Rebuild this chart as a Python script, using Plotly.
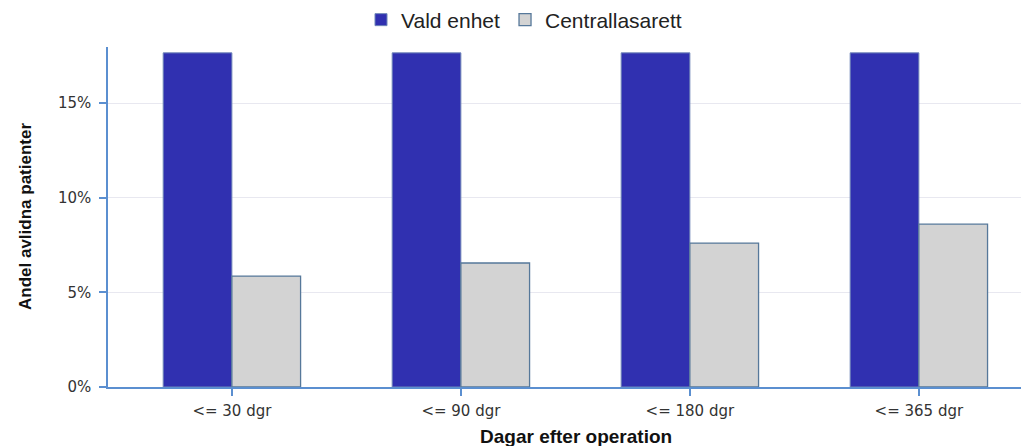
import plotly.graph_objects as go

categories = ["<= 30 dgr", "<= 90 dgr", "<= 180 dgr", "<= 365 dgr"]
vald_enhet = [17.65, 17.65, 17.65, 17.65]
centrallasarett = [5.86, 6.55, 7.6, 8.6]
y_ticks = [0, 5, 10, 15]
y_ticklabels = ["0%", "5%", "10%", "15%"]

# The page body adds an 8px offset, so the figure is sized to end at the window edge.
W, H = 1021, 438
PL, PT, PB = 100, 39, 379  # plot left, top, bottom in figure pixels

fig = go.Figure()
fig.add_trace(go.Bar(
    name="Vald enhet", x=categories, y=vald_enhet,
    marker=dict(color="#3030B0", line=dict(color="#6f86b8", width=1)),
))
fig.add_trace(go.Bar(
    name="Centrallasarett", x=categories, y=centrallasarett,
    marker=dict(color="#D3D3D3", line=dict(color="#56789a", width=1.3)),
))

fig.update_layout(
    width=W, height=H,
    margin=dict(l=PL, r=0, t=PT, b=H - PB, pad=0),
    paper_bgcolor="white", plot_bgcolor="white",
    barmode="group", bargap=0.4, bargroupgap=0,
    font=dict(family="Liberation Sans, Arial, sans-serif", color="#333"),
    legend=dict(orientation="h", xref="container", x=516 / W, xanchor="center",
                yref="container", y=1 - 12 / H, yanchor="middle",
                font=dict(size=21, color="#222"), traceorder="normal",
                itemwidth=30, tracegroupgap=0),
    showlegend=True,
    annotations=[
        dict(text="<b>Dagar efter operation</b>", xref="paper", yref="paper",
             x=(568 - PL) / (W - PL), y=-(428 - PB) / (PB - PT),
             xanchor="center", yanchor="middle", showarrow=False,
             font=dict(size=19, color="#111", family="Liberation Sans, Arial, sans-serif")),
        dict(text="<b>Andel avlidna patienter</b>", xref="paper", yref="paper",
             x=-(PL - 17) / (W - PL), y=(PB - 209) / (PB - PT),
             xanchor="center", yanchor="middle", showarrow=False, textangle=-90,
             font=dict(size=17, color="#111", family="Liberation Sans, Arial, sans-serif")),
    ],
)
fig.update_xaxes(
    automargin=False,
    range=[-0.541, 3.481], showline=True, linecolor="#5b8fd0", linewidth=1.5,
    ticks="outside", ticklen=7, tickcolor="#5b8fd0", tickwidth=1.5,
    tickfont=dict(size=15, color="#333", family="DejaVu Sans, Verdana, sans-serif"),
    ticklabelstandoff=2,
    showgrid=False,
)
fig.update_yaxes(
    automargin=False,
    range=[0, 17.96], tickvals=y_ticks, ticktext=y_ticklabels,
    showline=True, linecolor="#5b8fd0", linewidth=1.5,
    ticks="outside", ticklen=7, tickcolor="#5b8fd0", tickwidth=1.5,
    tickfont=dict(size=15, color="#333", family="DejaVu Sans, Verdana, sans-serif"),
    ticklabelstandoff=5,
    gridcolor="#e8e8f0", zeroline=False,
)
fig.write_html("out.html")
